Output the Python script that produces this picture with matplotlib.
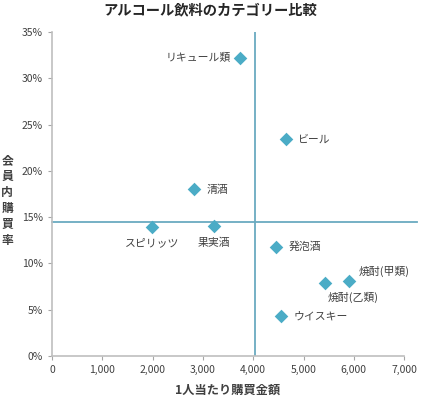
import numpy as np
import matplotlib
matplotlib.use("Agg")
import matplotlib.pyplot as plt
from matplotlib.ticker import FuncFormatter

plt.rcParams['font.family'] = ['Noto Sans CJK JP', 'DejaVu Sans']

# data
names = ['リキュール類', 'ビール', '清酒', 'スピリッツ', '果実酒', '発泡酒',
         '焼酎(甲類)', '焼酎(乙類)', 'ウイスキー']
spend = [3740, 4650, 2820, 1990, 3220, 4450, 5910, 5430, 4550]
rate = [32.2, 23.4, 18.0, 13.9, 14.0, 11.8, 8.1, 7.9, 4.3]
avg_spend = 4040
avg_rate = 14.5

# label placement: (dx, dy, ha, va) in points
offsets = {
    'リキュール類': (-7, 0, 'right', 'center'),
    'ビール': (9, 0, 'left', 'center'),
    '清酒': (9, 0, 'left', 'center'),
    'スピリッツ': (0, -8, 'center', 'top'),
    '果実酒': (0, -8, 'center', 'top'),
    '発泡酒': (9, 0, 'left', 'center'),
    '焼酎(甲類)': (7, 3, 'left', 'bottom'),
    '焼酎(乙類)': (2, -6, 'left', 'top'),
    'ウイスキー': (9, 0, 'left', 'center'),
}

txt = '#404040'
fig = plt.figure(figsize=(4.21, 3.98), dpi=100)
ax = fig.add_axes([0.1235, 0.1055, 0.8365, 0.814])

ax.axvline(avg_spend, color='#6aaac0', lw=1.3, zorder=1)
ax.plot([0, 7250], [avg_rate, avg_rate], color='#6aaac0', lw=1.3, clip_on=False, zorder=1)
ax.scatter(spend, rate, marker='D', s=48, color='#4bacc6', zorder=3, linewidths=0)

for n, x, y in zip(names, spend, rate):
    dx, dy, ha, va = offsets[n]
    ax.annotate(n, (x, y), xytext=(dx, dy), textcoords='offset points',
                ha=ha, va=va, fontsize=7.8, color=txt)

ax.set_xlim(0, 7000)
ax.set_ylim(0, 35)
ax.set_xticks(np.arange(0, 7001, 1000))
ax.set_yticks(np.arange(0, 36, 5))
ax.xaxis.set_major_formatter(FuncFormatter(lambda v, p: f'{int(v):,}'))
ax.yaxis.set_major_formatter(FuncFormatter(lambda v, p: f'{int(v)}%'))
ax.tick_params(colors='#a6a6a6', labelcolor=txt, labelsize=7.5, length=3)

for s in ['top', 'right']:
    ax.spines[s].set_visible(False)
for s in ['left', 'bottom']:
    ax.spines[s].set_color('#bfbfbf')
    ax.spines[s].set_linewidth(1.2)

fig.text(0.5, 0.975, 'アルコール飲料のカテゴリー比較', fontsize=10.3, fontweight='bold',
         color='#262626', ha='center', va='center')
ax.set_xlabel('1人当たり購買金額', fontsize=8.8, fontweight='bold', color=txt, labelpad=6)
fig.text(0.017, 0.497, '会\n員\n内\n購\n買\n率', fontsize=8.5, fontweight='bold',
         color=txt, ha='center', va='center', linespacing=1.3)

fig.savefig('out.png', dpi=100)
